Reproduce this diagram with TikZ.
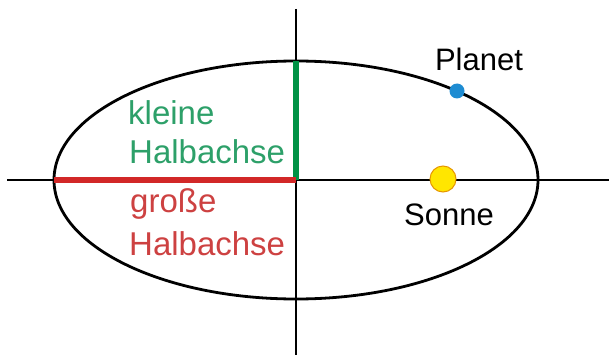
\documentclass[tikz,border=0pt]{standalone}
\usepackage{fontspec}
\setmainfont{Liberation Sans}
\definecolor{achsgruen}{RGB}{0,146,69}
\definecolor{textgruen}{RGB}{45,160,105}
\definecolor{achsrot}{RGB}{210,40,40}
\definecolor{textrot}{RGB}{205,65,65}
\definecolor{planetblau}{RGB}{30,140,210}
\definecolor{sonnengelb}{RGB}{255,230,0}
\definecolor{sonnenrand}{RGB}{230,150,0}
\tikzset{
  achse/.style={line width=2.4pt},
  bahn/.style={line width=2.8pt},
  halbachse/.style={line width=6.5pt},
  beschriftung/.style={font=\fontsize{31}{37}\selectfont, inner sep=0pt, anchor=base west},
  halbtext/.style={beschriftung, font=\fontsize{33}{37}\selectfont},
}
\begin{document}
\begin{tikzpicture}[x=1pt, y=-1pt]
  \useasboundingbox (0,0) rectangle (609,358);
  % Achsen
  \coordinate (M) at (296,180);
  \coordinate (links) at (7,180);
  \coordinate (rechts) at (609,180);
  \coordinate (oben) at (296,9);
  \coordinate (unten) at (296,355);
  \draw[achse] (links) -- (rechts);
  \draw[achse] (oben) -- (unten);
  % Bahn
  \draw[bahn] (M) ellipse [x radius=242pt, y radius=119pt];
  \coordinate (A) at (54,180);
  \coordinate (B) at (296,61);
  \draw[halbachse, achsgruen] (B) -- (M);
  \draw[halbachse, achsrot] (A) -- (M);
  % Sonne und Planet
  \node[circle, draw=sonnenrand, fill=sonnengelb, line width=1pt, minimum size=26pt, inner sep=0pt] (sonne) at (443,179) {};
  \node[circle, fill=planetblau, minimum size=15pt, inner sep=0pt] (planet) at (457,91) {};
  \node[beschriftung, anchor=base] (planettext) at (479,71) {Planet};
  \node[beschriftung, anchor=base] (sonnetext) at (449,225) {Sonne};
  % Halbachsen
  \node[halbtext, textgruen] (kleine) at (128,125) {kleine};
  \node[halbtext, textgruen] (klHalb) at (129,163) {Halbachse};
  \node[halbtext, textrot] (grosse) at (130,212) {große};
  \node[halbtext, textrot] (grHalb) at (129,255) {Halbachse};
\end{tikzpicture}
\end{document}
